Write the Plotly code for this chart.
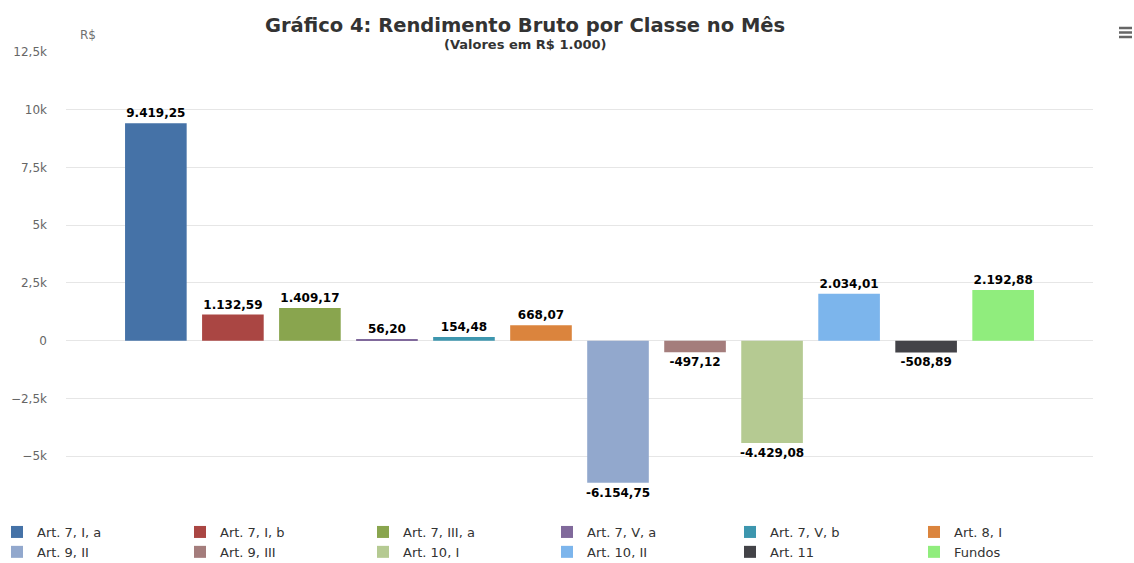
import plotly.graph_objects as go

series = ["Art. 7, I, a", "Art. 7, I, b", "Art. 7, III, a", "Art. 7, V, a", "Art. 7, V, b", "Art. 8, I",
          "Art. 9, II", "Art. 9, III", "Art. 10, I", "Art. 10, II", "Art. 11", "Fundos"]
values = [9419.25, 1132.59, 1409.17, 56.20, 154.48, 668.07,
          -6154.75, -497.12, -4429.08, 2034.01, -508.89, 2192.88]
colors = ["#4572A7", "#AA4643", "#89A54E", "#80699B", "#3D96AE", "#DB843D",
          "#92A8CD", "#A47D7C", "#B5CA92", "#7CB5EC", "#434348", "#90ED7D"]
tick_vals = [-5000, -2500, 0, 2500, 5000, 7500, 10000, 12500]
tick_text = ["−5k", "−2,5k", "0", "2,5k", "5k", "7,5k", "10k", "12,5k"]

W, H = 1134, 563
L, R, T, B = 66, 1093, 52, 485   # plot area in page pixels
FONT = "DejaVu Sans"

def px_x(x):
    return (x - L) / (R - L)

def px_y(y):
    return (B - y) / (B - T)

legend_cols = [37, 220, 403, 587, 770, 954]   # text start of each legend column (page px)
ncols = len(legend_cols)

fig = go.Figure()
for i, (name, v, c) in enumerate(zip(series, values, colors)):
    col = i % ncols
    fig.add_trace(go.Bar(
        x=["Classe"], y=[v], name=name, marker=dict(color=c, line=dict(width=0)),
        texttemplate="<b>%{y:,.2f}</b>", textposition="outside", constraintext="none",
        cliponaxis=False,
        textfont=dict(family=FONT, size=12, color="#000000"),
        hoverinfo="name+y",
        legend="legend" if col == 0 else f"legend{col + 1}",
        legendgroup=f"g{i}",
    ))

legends = {}
for col, tx in enumerate(legend_cols):
    key = "legend" if col == 0 else f"legend{col + 1}"
    legends[key] = dict(
        orientation="v", x=px_x(tx - 40), xanchor="left", y=px_y(517), yanchor="top",
        traceorder="normal", tracegroupgap=2, bgcolor="rgba(0,0,0,0)",
        font=dict(family=FONT, size=13, color="#333333"), itemclick=False,
    )

fig.update_layout(
    width=W, height=H,
    margin=dict(l=L, r=W - R, t=T, b=H - B, pad=0, autoexpand=False),
    paper_bgcolor="white", plot_bgcolor="white",
    barmode="group", bargap=0.1, bargroupgap=0.2,
    separators=",.",
    font=dict(family=FONT, color="#333333"),
    showlegend=True,
    xaxis=dict(showticklabels=False, showgrid=False, zeroline=False, showline=False,
               range=[-0.5, 0.5], fixedrange=True, automargin=False),
    yaxis=dict(range=[-6250, 12500], tickvals=tick_vals, ticktext=tick_text,
               showgrid=True, gridcolor="#E6E6E6", gridwidth=1,
               zeroline=True, zerolinecolor="#E6E6E6", zerolinewidth=1,
               showline=False, ticks="", ticklabelstandoff=18, automargin=False,
               tickfont=dict(family=FONT, size=12, color="#666666")),
    annotations=[
        dict(text="<b>Gráfico 4: Rendimento Bruto por Classe no Mês</b>", x=px_x(525), y=px_y(26),
             xref="paper", yref="paper", xanchor="center", yanchor="middle", showarrow=False,
             font=dict(family=FONT, size=19.5, color="#333333")),
        dict(text="<b>(Valores em R$ 1.000)</b>", x=px_x(525), y=px_y(45),
             xref="paper", yref="paper", xanchor="center", yanchor="middle", showarrow=False,
             font=dict(family=FONT, size=13, color="#333333")),
        dict(text="R$", x=px_x(88), y=px_y(35), xref="paper", yref="paper",
             xanchor="center", yanchor="middle", showarrow=False,
             font=dict(family=FONT, size=12, color="#707070")),
    ],
    shapes=[dict(type="line", xref="paper", yref="paper", x0=px_x(1119), x1=px_x(1132),
                 y0=px_y(yy), y1=px_y(yy), line=dict(color="#666666", width=2.5))
            for yy in (28, 32.5, 37)],
    **legends,
)

fig.write_html(
    "out.html",
    config={"displayModeBar": False},
    post_script="document.body.style.margin='0';document.body.style.overflow='hidden';",
)
